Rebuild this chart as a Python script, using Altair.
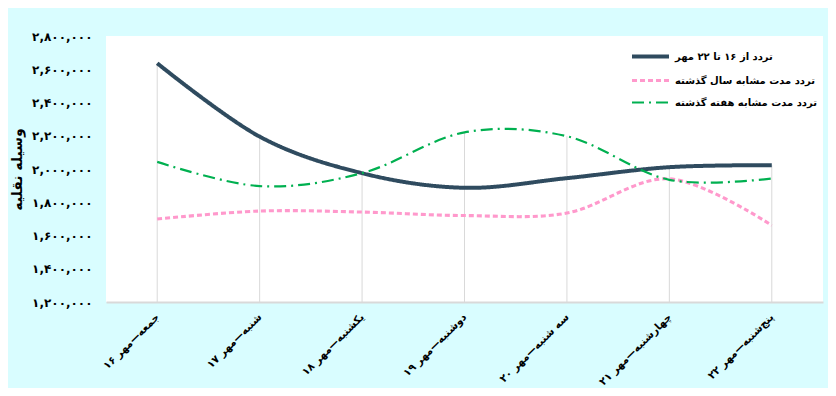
import altair as alt
import pandas as pd

days = ["جمعه—مهر ۱۶", "شنبه—مهر ۱۷", "یکشنبه—مهر ۱۸", "دوشنبه—مهر ۱۹",
        "سه شنبه—مهر ۲۰", "چهارشنبه—مهر ۲۱", "پنج‌شنبه—مهر ۲۲"]
series_names = ["تردد از ۱۶  تا ۲۲ مهر", "تردد مدت مشابه سال گذشته", "تردد مدت مشابه هفته گذشته"]
current_week = [2636000, 2195000, 1975000, 1887000, 1945000, 2011000, 2023000]
last_year = [1699000, 1747000, 1741000, 1720000, 1735000, 1941000, 1661000]
last_week = [2043000, 1897000, 1975000, 2220000, 2197000, 1935000, 1943000]
y_ticks = [1200000, 1400000, 1600000, 1800000, 2000000, 2200000, 2400000, 2600000, 2800000]
y_tick_labels = ["۱,۲۰۰,۰۰۰", "۱,۴۰۰,۰۰۰", "۱,۶۰۰,۰۰۰", "۱,۸۰۰,۰۰۰", "۲,۰۰۰,۰۰۰",
                 "۲,۲۰۰,۰۰۰", "۲,۴۰۰,۰۰۰", "۲,۶۰۰,۰۰۰", "۲,۸۰۰,۰۰۰"]
y_title = "وسیله نقلیه"

rows = []
for name, vals in zip(series_names, [current_week, last_year, last_week]):
    for d, v in zip(days, vals):
        rows.append({"day": d, "series": name, "value": v})
df = pd.DataFrame(rows)

label_expr = "''"
for v, lab in zip(y_ticks, y_tick_labels):
    label_expr = f"datum.value == {v} ? '{lab}' : ({label_expr})"

FONT = "DejaVu Sans"
y_scale = alt.Scale(domain=[1200000, 2800000], nice=False, zero=False)
x_scale = alt.Scale(type="point", padding=0.5)

x_axis = alt.Axis(title=None, labelAngle=-45, labelAlign="right", labelBaseline="middle",
                  labelPadding=13, ticks=False, grid=False, domainColor="#d9d9d9",
                  domainWidth=2, labelFont=FONT, labelFontSize=10.5, labelFontWeight="bold",
                  labelColor="black", labelOverlap=False, labelLimit=300)
y_axis = alt.Axis(values=y_ticks, labelExpr=label_expr, title=y_title, grid=False,
                  domain=False, ticks=False, tickSize=0, labelPadding=14,
                  labelOverlap=False, labelFlush=False,
                  labelFont=FONT, labelFontSize=12, labelFontWeight="bold", labelColor="black",
                  titleFont=FONT, titleFontSize=14, titleFontWeight="bold", titleColor="black",
                  titleX=-82)

drops = alt.Chart(df).mark_rule(color="#d9d9d9", strokeWidth=1).encode(
    x=alt.X("day:N", sort=days, scale=x_scale, axis=x_axis),
    y=alt.Y("max(value):Q", scale=y_scale, axis=y_axis),
    y2=alt.datum(1200000),
)

lines = alt.Chart(df).mark_line(interpolate="cardinal").encode(
    x=alt.X("day:N", sort=days, scale=x_scale, axis=x_axis),
    y=alt.Y("value:Q", scale=y_scale, axis=y_axis),
    color=alt.Color("series:N", sort=series_names,
                    scale=alt.Scale(domain=series_names, range=["#2f4b5f", "#ff99cc", "#00b050"]),
                    legend=alt.Legend(title=None, orient="none", legendX=533, legendY=9,
                                      symbolType="M-2,0H2", symbolSize=342, labelFont=FONT,
                                      labelFontSize=10, labelFontWeight="bold", labelColor="black",
                                      rowPadding=4.5, labelOffset=13, labelLimit=300)),
    strokeDash=alt.StrokeDash("series:N", sort=series_names,
                              scale=alt.Scale(domain=series_names, range=[[1, 0], [5, 3], [12, 5, 2, 5]]),
                              legend=None),
    strokeWidth=alt.StrokeWidth("series:N", sort=series_names,
                                scale=alt.Scale(domain=series_names, range=[4, 2.2, 2.2]), legend=None),
    detail="series:N",
)

chart = alt.layer(drops, lines).properties(
    width=717, height=266,
    autosize=alt.AutoSizeParams(type="none"),
    padding={"left": 98, "top": 28, "right": 5, "bottom": 86},
    background="#d9fdff",
).configure_view(fill="white", strokeWidth=0)

chart.save("out.html", embed_options={"renderer": "svg", "actions": False})
